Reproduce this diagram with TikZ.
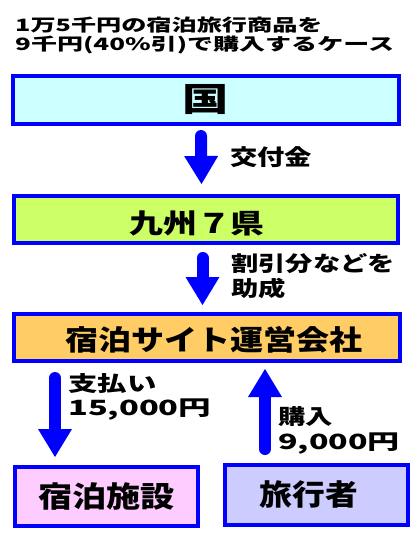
\documentclass[tikz,border=0pt]{standalone}
\usepackage{fontspec}
\usepackage{graphicx}
\usetikzlibrary{arrows.meta}
\newfontfamily\jp{Noto Sans CJK JP}
\definecolor{bl}{HTML}{0000FF}
\definecolor{cyanF}{HTML}{CCFFFF}
\definecolor{limeF}{HTML}{CCFF66}
\definecolor{oranF}{HTML}{FFCC66}
\definecolor{pinkF}{HTML}{FFCCFF}
\definecolor{lavF}{HTML}{CCCCFF}
\newcommand{\jt}[3]{{\fontsize{#1}{#1}\selectfont\scalebox{#2}[1]{#3}}}
\begin{document}
\begin{tikzpicture}[x=1pt,y=-1pt,
  box/.style={draw=bl, line width=4pt, inner sep=0pt, font=\jp\bfseries, text=black},
  txt/.style={inner sep=0pt, font=\jp\bfseries, text=black},
  conn/.style={draw=bl, line width=12pt, line cap=round, -{Triangle[width=34pt,length=28pt,line width=0pt]}}]
\useasboundingbox (0,0) rectangle (419,535);
\fill[white] (0,0) rectangle (419,535);
% title
\node[txt, anchor=west] (t1) at (15,25) {\jt{17}{1.48}{1万5千円の宿泊旅行商品を}};
\node[txt, anchor=west] (t2) at (15,45) {\jt{17}{1.53}{9千円(40\%引)で購入するケース}};
% boxes
\node[box, fill=cyanF, minimum width=386pt, minimum height=48pt] (guo) at (206,100) {\jt{33}{1.4}{国}};
\node[box, fill=limeF, minimum width=384pt, minimum height=47pt] (kyushu) at (206,219.5) {};
\node[txt] (kyushuT) at (197,223) {\jt{27}{1.25}{九州７県}};
\node[box, fill=oranF, minimum width=386pt, minimum height=47pt] (unei) at (207,337.5) {};
\node[txt] (uneiT) at (214,340) {\jt{28}{1.18}{宿泊サイト運営会社}};
\node[box, fill=pinkF, minimum width=183pt, minimum height=59pt] (shuku) at (106.5,496.5) {\jt{29}{1.18}{宿泊施設}};
\node[box, fill=lavF, minimum width=183pt, minimum height=60pt] (ryo) at (316.5,495) {};
\node[txt] (ryoT) at (309,495) {\jt{29}{1.13}{旅行者}};
% labels
\node[txt] (l1) at (271,157) {\jt{22}{1.24}{交付金}};
\node[txt, anchor=west] (l2a) at (231,264) {\jt{21}{1.3}{割引分などを}};
\node[txt, anchor=west] (l2b) at (231,288) {\jt{21}{1.3}{助成}};
\node[txt, anchor=west] (l3a) at (68,384) {\jt{21}{1.4}{支払い}};
\node[txt, anchor=west] (l3b) at (68,410) {\jt{21}{1.55}{15,000円}};
\node[txt, anchor=west] (l4a) at (278,417) {\jt{21}{1.3}{購入}};
\node[txt, anchor=west] (l4b) at (278,444) {\jt{21}{1.53}{9,000円}};
% arrows
\draw[conn] ([xshift=-5pt,yshift=-10pt]guo.south) -- ([xshift=-4.5pt,yshift=10pt]kyushu.north);
\draw[conn] ([xshift=-3.5pt,yshift=-13pt]kyushu.south) -- ([xshift=-4.5pt,yshift=7pt]unei.north);
\draw[conn] ([xshift=-152pt,yshift=-15pt]unei.south) -- ([xshift=-51.5pt,yshift=8pt]shuku.north);
\draw[conn] ([xshift=-51.5pt,yshift=14pt]ryo.north) -- ([xshift=58pt,yshift=-6pt]unei.south);
\end{tikzpicture}
\end{document}
